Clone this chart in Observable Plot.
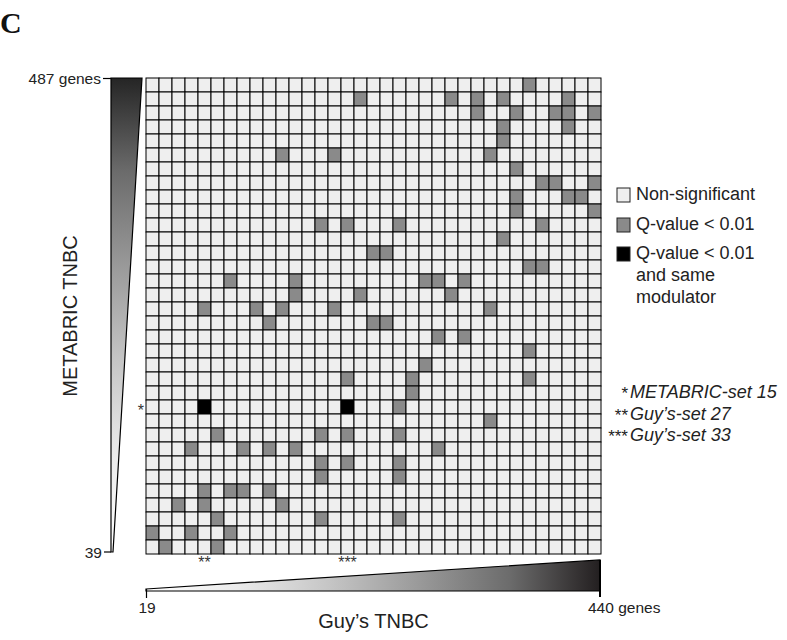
<!DOCTYPE html>
<html>
<head>
<meta charset="utf-8">
<script src="https://cdn.jsdelivr.net/npm/d3@7"></script>
<script src="https://cdn.jsdelivr.net/npm/@observablehq/plot@0.6"></script>
<style>
  html, body { margin: 0; padding: 0; background: #fff; }
</style>
</head>
<body>
<div id="chart"></div>
<script>
// ---- data ----
const nCols = 35;   // Guy's TNBC gene sets (19 .. 440 genes)
const nRows = 34;   // METABRIC TNBC gene sets (487 .. 39 genes, top to bottom)
// significant (Q-value < 0.01) columns, per row from top to bottom
const significantByRow = [
  [29],
  [16, 23, 25, 27, 32],
  [25, 28, 31, 32, 34],
  [27, 32],
  [27],
  [10, 14, 26],
  [28],
  [30, 31, 34],
  [28, 32, 33],
  [28, 34],
  [13, 15, 19, 30],
  [27],
  [17, 18],
  [29, 30],
  [6, 11, 21, 22, 24],
  [11, 16, 23],
  [4, 8, 10, 14, 26],
  [9, 17, 18],
  [22, 24],
  [29],
  [21],
  [15, 20, 29],
  [20],
  [19],
  [26],
  [5, 13, 15, 19],
  [3, 7, 9, 11, 22],
  [13, 15, 19],
  [13, 19],
  [4, 6, 7, 9],
  [2, 4, 10],
  [5, 13, 19],
  [0, 3, 6],
  [1, 5]
];
// Q-value < 0.01 and same modulator: [row, col]
const sameModulator = [[23, 4], [23, 15]];
const statusKeys = ["ns", "sig", "same"];
const statusColors = ["#efefef", "#8a8a8a", "#000000"];
const legendLabels = [["Non-significant"], ["Q-value < 0.01"], ["Q-value < 0.01", "and same", "modulator"]];
const footMarks = ["*", "**", "***"];
const footLabels = ["METABRIC-set 15", "Guy\u2019s-set 27", "Guy\u2019s-set 33"];
const rowMarked = 23;          // METABRIC-set 15 (*)
const colMarks = [[4, "**"], [15, "***"]];  // Guy's-set 27, Guy's-set 33
const yRangeLabels = ["487 genes", "39"];
const xRangeLabels = ["19", "440 genes"];
const yTitle = "METABRIC TNBC";
const xTitle = "Guy\u2019s TNBC";
const panelLetter = "C";

// ---- build cell table ----
const cells = [];
for (let r = 0; r < nRows; r++) {
  for (let c = 0; c < nCols; c++) {
    let s = "ns";
    if (significantByRow[r].includes(c)) s = "sig";
    if (sameModulator.some(([rr, cc]) => rr === r && cc === c)) s = "same";
    cells.push({row: r, col: c, status: s});
  }
}

const W = 787, H = 640;
const plot = Plot.plot({
  width: W,
  height: H,
  marginLeft: 145,
  marginRight: 186,
  marginTop: 75,
  marginBottom: 83,
  x: {type: "band", domain: d3.range(nCols), padding: 0, axis: null},
  y: {type: "band", domain: d3.range(nRows), padding: 0, axis: null},
  color: {type: "ordinal", domain: statusKeys, range: statusColors},
  marks: [
    Plot.cell(cells, {x: "col", y: "row", fill: "status", stroke: "#000", strokeWidth: 1})
  ]
});
document.getElementById("chart").appendChild(plot);

const xs = plot.scale("x"), ys = plot.scale("y");
const bw = xs.bandwidth, bh = ys.bandwidth;
const gx0 = xs.apply(0), gx1 = xs.apply(nCols - 1) + bw;
const gy0 = ys.apply(0), gy1 = ys.apply(nRows - 1) + bh;

const svg = d3.select(plot).style("background", "#fff");
const SANS = "'Liberation Sans', Arial, Helvetica, sans-serif";
const defs = svg.append("defs");

const gv = defs.append("linearGradient").attr("id", "gradV").attr("x1", 0).attr("y1", 0).attr("x2", 0).attr("y2", 1);
[[0, "#252525"], [0.2, "#6c6c6c"], [0.4, "#9a9a9a"], [0.6, "#c6c6c6"], [0.8, "#ebebeb"], [1, "#ffffff"]]
  .forEach(([o, c]) => gv.append("stop").attr("offset", o).attr("stop-color", c));
const gh = defs.append("linearGradient").attr("id", "gradH").attr("x1", 0).attr("y1", 0).attr("x2", 1).attr("y2", 0);
[[0, "#ffffff"], [0.2, "#ebebeb"], [0.4, "#c6c6c6"], [0.6, "#9a9a9a"], [0.8, "#6c6c6c"], [1, "#231f20"]]
  .forEach(([o, c]) => gh.append("stop").attr("offset", o).attr("stop-color", c));

const g = svg.append("g").attr("text-anchor", "start");

// Panel letter
g.append("text").attr("x", 0).attr("y", 33).attr("text-anchor", "start")
  .attr("font-family", "'Liberation Serif', 'Times New Roman', serif")
  .attr("font-weight", "bold").attr("font-size", 30).attr("fill", "#111").text(panelLetter);

// Left wedge (METABRIC)
const lwX = 111;
g.append("path")
  .attr("d", `M${lwX},${gy0} L${lwX + 31},${gy0} L${lwX + 2},${gy1 - 2} L${lwX},${gy1 - 2} Z`)
  .attr("fill", "url(#gradV)").attr("stroke", "#000").attr("stroke-width", 1.2);
g.append("line").attr("x1", lwX - 8).attr("x2", lwX).attr("y1", gy0 + 0.5).attr("y2", gy0 + 0.5).attr("stroke", "#000").attr("stroke-width", 1.2);
g.append("line").attr("x1", lwX - 7).attr("x2", lwX).attr("y1", gy1 - 2).attr("y2", gy1 - 2).attr("stroke", "#000").attr("stroke-width", 1.2);
g.append("text").attr("x", lwX - 10).attr("y", gy0 + 6).attr("text-anchor", "end")
  .attr("font-family", SANS).attr("font-size", 15.5).attr("fill", "#222").text(yRangeLabels[0]);
g.append("text").attr("x", lwX - 9).attr("y", gy1 + 4).attr("text-anchor", "end")
  .attr("font-family", SANS).attr("font-size", 15.5).attr("fill", "#222").text(yRangeLabels[1]);
g.append("text").attr("transform", `translate(77,${(gy0 + gy1) / 2}) rotate(-90)`).attr("text-anchor", "middle")
  .attr("font-family", SANS).attr("font-size", 20).attr("fill", "#222").text(yTitle);

// Bottom wedge (Guy's)
const bwY = 591;
g.append("path")
  .attr("d", `M${gx0},${bwY - 2} L${gx1 - 1},${bwY - 31} L${gx1 - 1},${bwY} L${gx0},${bwY} Z`)
  .attr("fill", "url(#gradH)").attr("stroke", "#000").attr("stroke-width", 1.2);
g.append("line").attr("x1", gx0 + 0.5).attr("x2", gx0 + 0.5).attr("y1", bwY - 2).attr("y2", bwY + 7).attr("stroke", "#000").attr("stroke-width", 1.2);
g.append("line").attr("x1", gx1 - 1).attr("x2", gx1 - 1).attr("y1", bwY - 31).attr("y2", bwY + 6).attr("stroke", "#000").attr("stroke-width", 2);
g.append("text").attr("x", gx0 + 1).attr("y", 613).attr("text-anchor", "middle")
  .attr("font-family", SANS).attr("font-size", 15.5).attr("fill", "#222").text(xRangeLabels[0]);
g.append("text").attr("x", gx1 - 13).attr("y", 613).attr("text-anchor", "start")
  .attr("font-family", SANS).attr("font-size", 15.5).attr("fill", "#222").text(xRangeLabels[1]);
g.append("text").attr("x", (gx0 + gx1) / 2).attr("y", 628).attr("text-anchor", "middle")
  .attr("font-family", SANS).attr("font-size", 20).attr("fill", "#222").text(xTitle);

// Set markers
g.append("text").attr("x", gx0 - 2).attr("y", ys.apply(rowMarked) + bh / 2 + 9).attr("text-anchor", "end")
  .attr("font-family", SANS).attr("font-size", 16).attr("fill", "#333").text("*");
colMarks.forEach(([c, m]) => {
  g.append("text").attr("x", xs.apply(c) + bw / 2).attr("y", gy1 + 14).attr("text-anchor", "middle")
    .attr("font-family", SANS).attr("font-size", 16).attr("fill", "#333").text(m);
});

// Legend
const legX = 617;
const legSqY = [188, 218, 247];
const legBase = [[200], [230], [259, 281, 302.5]];
legendLabels.forEach((lines, i) => {
  g.append("rect").attr("x", legX).attr("y", legSqY[i]).attr("width", 13).attr("height", 14)
    .attr("fill", statusColors[i]).attr("stroke", "#222").attr("stroke-width", 1);
  lines.forEach((t, j) => {
    g.append("text").attr("x", legX + 19).attr("y", legBase[i][j]).attr("text-anchor", "start")
      .attr("font-family", SANS).attr("font-size", 18).attr("fill", "#222").text(t);
  });
});

// Footnotes
const footBase = [398, 419.5, 441];
footLabels.forEach((t, i) => {
  g.append("text").attr("x", 628).attr("y", footBase[i] + 1).attr("text-anchor", "end")
    .attr("font-family", SANS).attr("font-size", 17).attr("fill", "#222").text(footMarks[i]);
  g.append("text").attr("x", 630).attr("y", footBase[i]).attr("text-anchor", "start")
    .attr("font-family", SANS).attr("font-style", "italic").attr("font-size", 18).attr("fill", "#222").text(t);
});
</script>
</body>
</html>
